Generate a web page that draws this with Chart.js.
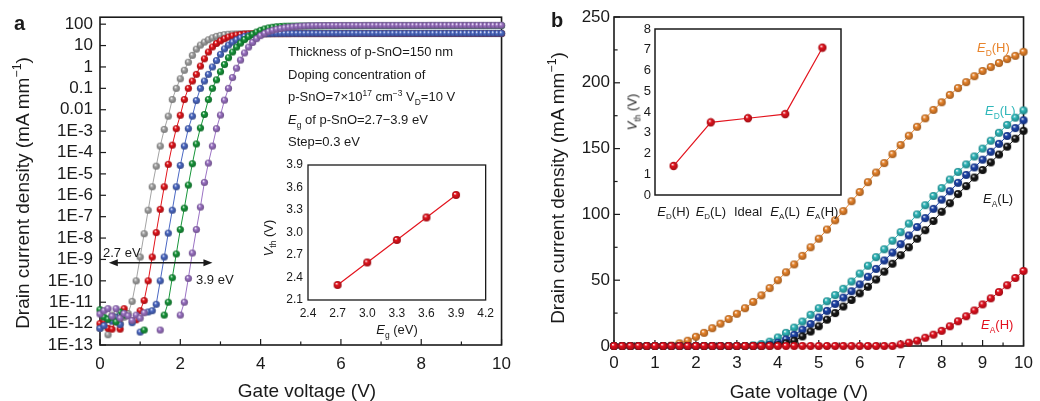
<!DOCTYPE html>
<html>
<head>
<meta charset="utf-8">
<script src="https://cdn.jsdelivr.net/npm/chart.js@4.4.1/dist/chart.umd.min.js"></script>
<style>
  body { margin: 0; background: #fff; }
  #wrap { position: relative; width: 1040px; height: 401px; overflow: hidden; font-family: 'Liberation Sans', Arial, sans-serif; color: #1a1a1a; }
  canvas { position: absolute; }
  .t { position: absolute; white-space: nowrap; line-height: 1; }
  .c { transform: translate(-50%, 0); }
  .rot { transform: translate(-50%, -50%) rotate(-90deg); }
  sub, sup { font-size: 65%; line-height: 0; }
</style>
</head>
<body>
<div id="wrap">
  <canvas id="ca" width="520" height="401" style="left:0;top:0"></canvas>
  <canvas id="cai" width="230" height="195" style="left:270px;top:150px"></canvas>
  <canvas id="cb" width="520" height="401" style="left:520px;top:0"></canvas>
  <canvas id="cbi" width="260" height="215" style="left:600px;top:15px"></canvas>

  <div class="t" style="left:14px;top:13px;font-size:20px;font-weight:bold">a</div>
  <div class="t" style="left:551px;top:10px;font-size:20px;font-weight:bold">b</div>

  <div class="t" style="left:288px;top:45px;font-size:13px">Thickness of p-SnO=150 nm</div>
  <div class="t" style="left:288px;top:68px;font-size:13px">Doping concentration of</div>
  <div class="t" style="left:288px;top:90px;font-size:13px">p-SnO=7×10<sup>17</sup> cm<sup>−3</sup> V<sub>D</sub>=10 V</div>
  <div class="t" style="left:288px;top:113px;font-size:13px"><i>E</i><sub>g</sub> of p-SnO=2.7−3.9 eV</div>
  <div class="t" style="left:288px;top:135px;font-size:13px">Step=0.3 eV</div>
  <div class="t" style="left:103px;top:246px;font-size:13px">2.7 eV</div>
  <div class="t" style="left:196px;top:273px;font-size:13px">3.9 eV</div>

  <div class="t c" style="left:397px;top:323px;font-size:13px"><i>E</i><sub>g</sub> (eV)</div>
  <div class="t rot" style="left:268px;top:238px;font-size:13px"><i>V</i><sub>th</sub> (V)</div>
  <div class="t rot" style="left:632px;top:112px;font-size:13px"><i>V</i><sub>th</sub> (V)</div>

  <div class="t c" style="left:307px;top:381px;font-size:19px">Gate voltage (V)</div>
  <div class="t c" style="left:799px;top:382px;font-size:19px">Gate voltage (V)</div>
  <div class="t rot" style="left:22px;top:193px;font-size:19px">Drain current density (mA mm<sup>−1</sup>)</div>
  <div class="t rot" style="left:557px;top:188px;font-size:19px">Drain current density (mA mm<sup>−1</sup>)</div>

  <div class="t" style="left:977px;top:41px;font-size:13px;color:#e8842c"><i>E</i><sub>D</sub>(H)</div>
  <div class="t" style="left:985px;top:104px;font-size:13px;color:#2fb7ba"><i>E</i><sub>D</sub>(L)</div>
  <div class="t" style="left:983px;top:192px;font-size:13px;color:#1a1a1a"><i>E</i><sub>A</sub>(L)</div>
  <div class="t" style="left:981px;top:318px;font-size:13px;color:#e3101e"><i>E</i><sub>A</sub>(H)</div>
</div>

<script>
// ---- panel a: transfer curves (log scale), step 0.1 V
const gateA = [
  0,0.1,0.2,0.3,0.4,0.5,0.6,0.7,0.8,0.9,
  1,1.1,1.2,1.3,1.4,1.5,1.6,1.7,1.8,1.9,
  2,2.1,2.2,2.3,2.4,2.5,2.6,2.7,2.8,2.9,
  3,3.1,3.2,3.3,3.4,3.5,3.6,3.7,3.8,3.9,
  4,4.1,4.2,4.3,4.4,4.5,4.6,4.7,4.8,4.9,
  5,5.1,5.2,5.3,5.4,5.5,5.6,5.7,5.8,5.9,
  6,6.1,6.2,6.3,6.4,6.5,6.6,6.7,6.8,6.9,
  7,7.1,7.2,7.3,7.4,7.5,7.6,7.7,7.8,7.9,
  8,8.1,8.2,8.3,8.4,8.5,8.6,8.7,8.8,8.9,
  9,9.1,9.2,9.3,9.4,9.5,9.6,9.7,9.8,9.9,
  10
];

// Eg = 2.7 eV
const grayA = [
  6e-13,1.5e-12,3e-13,2.5e-12,1.2e-12,1e-12,2e-12,3e-12,1.1e-11,1e-10,
  1.3e-9,1.6e-8,2e-7,2.5e-6,2.3e-5,2e-4,1.2e-3,5e-3,0.03,0.1,
  0.28,0.7,1.66,3.5,6.8,10.5,14.5,18.6,23,27,
  30,32.4,33.9,34.7,35.2,35.5,35.6,35.7,35.7,35.8,
  35.8,35.8,35.9,35.9,35.9,35.9,36,36,36,36,
  36,36,36,36.1,36.1,36.1,36.1,36.1,36.1,36.1,
  36.1,36.2,36.2,36.2,36.2,36.2,36.2,36.2,36.2,36.2,
  36.2,36.2,36.2,36.2,36.2,36.2,36.2,36.2,36.2,36.2,
  36.2,36.2,36.2,36.3,36.3,36.3,36.3,36.3,36.3,36.3,
  36.3,36.3,36.3,36.3,36.3,36.3,36.3,36.3,36.3,36.3,
  36.3
];
// Eg = 3.0 eV
const redA = [
  1e-12,1.3e-12,6e-13,5.5e-13,1.8e-12,5.5e-13,5e-12,null,null,1.5e-12,
  4e-12,1.2e-11,1e-10,1.3e-9,1.8e-8,2.2e-7,2.5e-6,2.8e-5,2.2e-4,1.3e-3,
  5.5e-3,0.03,0.1,0.22,0.45,1.1,2.4,5,8.6,12.5,
  16.5,20.8,25,28.5,31.2,33.1,34.3,35,35.5,35.8,
  36,36.1,36.2,36.3,36.3,36.4,36.4,36.4,36.5,36.5,
  36.5,36.5,36.5,36.6,36.6,36.6,36.6,36.6,36.6,36.6,
  36.7,36.7,36.7,36.7,36.7,36.7,36.7,36.7,36.7,36.7,
  36.7,36.7,36.7,36.7,36.7,36.7,36.7,36.7,36.7,36.7,
  36.7,36.7,36.7,36.8,36.8,36.8,36.8,36.8,36.8,36.8,
  36.8,36.8,36.8,36.8,36.8,36.8,36.8,36.8,36.8,36.8,
  36.8
];
// Eg = 3.3 eV
const blueA = [
  6e-13,8e-13,1.6e-12,1.3e-12,2e-12,9e-13,null,null,1.1e-12,null,
  4e-13,null,3.5e-12,4e-12,8e-12,1e-10,1.3e-9,1.7e-8,2e-7,2.5e-6,
  2.5e-5,2e-4,1.3e-3,5e-3,0.027,0.1,0.22,0.45,1.0,2.0,
  3.9,7,10.5,14.5,18.6,23,27,30,32.4,33.9,
  34.9,35.6,36.1,36.5,36.7,36.8,36.9,37,37,37.1,
  37.1,37.1,37.2,37.2,37.2,37.2,37.3,37.3,37.3,37.3,
  37.3,37.3,37.4,37.4,37.4,37.4,37.4,37.4,37.4,37.4,
  37.4,37.4,37.5,37.5,37.5,37.5,37.5,37.5,37.5,37.5,
  37.5,37.5,37.5,37.5,37.5,37.5,37.5,37.5,37.5,37.5,
  37.5,37.5,37.5,37.5,37.5,37.5,37.5,37.5,37.5,37.5,
  37.5
];
// Eg = 3.6 eV
const greenA = [
  4.5e-12,2e-12,1.6e-12,2e-12,1.2e-12,3.5e-12,2.5e-12,null,null,null,
  null,5e-13,null,null,null,null,2.5e-12,1e-11,1.4e-10,1.8e-9,
  2.5e-8,2.5e-7,3e-6,3e-5,2.5e-4,1.4e-3,6e-3,0.03,0.1,0.25,
  0.6,1.3,2.7,5,8.5,13,19,26,34,43,
  52,60,67,72,76,78.5,80.5,81,81.5,82,
  82.4,82.7,83,83.3,83.5,83.7,83.9,84.1,84.2,84.4,
  84.5,84.6,84.7,84.8,84.9,85,85.1,85.1,85.2,85.3,
  85.3,85.4,85.4,85.5,85.5,85.6,85.6,85.6,85.7,85.7,
  85.7,85.8,85.8,85.8,85.8,85.9,85.9,85.9,85.9,86,
  86,86,86,86,86.1,86.1,86.1,86.1,86.1,86.1,
  86.2
];
// Eg = 3.9 eV
const purpleA = [
  2.8e-12,4e-12,5e-12,2.2e-12,5e-12,1.8e-12,3e-12,2.3e-12,1.4e-12,2.5e-12,
  1.8e-12,3.2e-12,null,null,null,5e-13,null,null,null,null,
  2.5e-12,1e-11,1.3e-10,2e-9,2.5e-8,2.8e-7,4e-6,3.2e-5,2e-4,1.3e-3,
  5.6e-3,0.028,0.1,0.32,0.87,2.1,4.5,8.5,14,21,
  29,37,45,52,58,63,68,72,75.5,78.5,
  81,83,84.5,85.5,86.2,86.5,86.8,87,87.2,87.3,
  87.4,87.5,87.6,87.7,87.8,87.9,88,88,88.1,88.1,
  88.2,88.2,88.3,88.3,88.3,88.4,88.4,88.4,88.5,88.5,
  88.5,88.5,88.6,88.6,88.6,88.6,88.7,88.7,88.7,88.7,
  88.7,88.8,88.8,88.8,88.8,88.8,88.9,88.9,88.9,88.9,
  89
];
const seriesA = [grayA, redA, blueA, greenA, purpleA];
const colorsA = ['#a3a3a3', '#e3141b', '#4b68c4', '#17963a', '#9b72c4'];

const xTicksA = [0, 2, 4, 6, 8, 10];
const xMinorA = [1, 3, 5, 7, 9];
const yTicksA = [1e-13,1e-12,1e-11,1e-10,1e-9,1e-8,1e-7,1e-6,1e-5,1e-4,1e-3,1e-2,1e-1,1,10,100];
const yLabelsA = ['1E-13','1E-12','1E-11','1E-10','1E-9','1E-8','1E-7','1E-6','1E-5','1E-4','1E-3','0.01','0.1','1','10','100'];
const arrowA = { from: 0.22, to: 2.8, at: 7e-10 };

// inset a: threshold voltage vs band gap
const insetAEg = [2.7, 3.0, 3.3, 3.6, 3.9];
const insetAVth = [2.3, 2.6, 2.9, 3.2, 3.5];
const insetAXTicks = [2.4, 2.7, 3.0, 3.3, 3.6, 3.9, 4.2];
const insetAYTicks = [2.1, 2.4, 2.7, 3.0, 3.3, 3.6, 3.9];

// ---- panel b: transfer curves (linear), step 0.2 V
const gateB = [
  0,0.2,0.4,0.6,0.8,1,1.2,1.4,1.6,1.8,
  2,2.2,2.4,2.6,2.8,3,3.2,3.4,3.6,3.8,
  4,4.2,4.4,4.6,4.8,5,5.2,5.4,5.6,5.8,
  6,6.2,6.4,6.6,6.8,7,7.2,7.4,7.6,7.8,
  8,8.2,8.4,8.6,8.8,9,9.2,9.4,9.6,9.8,
  10
];
const edHighB = [
  0,0,0,0,0,0,0,0.3,2,4,
  7,10,13.5,17,20.5,24.5,28.7,33.5,38.5,44,
  50,56,62,68.5,75,81.5,88.5,95.5,102.5,110,
  117,124.5,131.8,139,145.8,152.7,159.8,166.6,173,179.4,
  185.2,190.8,196,200.5,205,209,212,215,218,220.5,
  223.5
];
const edLowB = [
  0,0,0,0,0,0,0,0,0,0,
  0,0,0,0,0,0,0,0.5,1.5,3.3,
  6.5,10,14,18.6,23.7,28.7,34,38.7,43.5,49,
  55,61,67.5,73.5,80,86.5,93,100,107,114,
  120,126.5,132.3,138,144,150,156,162,168,173.5,
  179
];
const idealB = [
  0,0,0,0,0,0,0,0,0,0,
  0,0,0,0,0,0,0,0,0.2,1,
  2.5,5,8.5,12.4,16.7,21.7,26.7,32,36.8,41.6,
  46.8,52.6,58.6,65,71,77.4,84,90.4,97.2,104.2,
  111.2,117.6,124,130,135.7,141.6,147.6,153.6,159.6,165.6,
  171.5
];
const eaLowB = [
  0,0,0,0,0,0,0,0,0,0,
  0,0,0,0,0,0,0,0,0,0.2,
  0.7,2,4,7.3,11,15,20,25,30,35,
  40,45,50.5,56.5,62.5,69,75,81.5,88,95,
  102,108.5,115.5,121.5,128,133.7,139.5,145.5,151.5,157.5,
  163.5
];
const eaHighB = [
  0,0,0,0,0,0,0,0,0,0,
  0,0,0,0,0,0,0,0,0,0,
  0,0,0,0,0,0,0,0,0,0,
  0,0,0,0,0,1.2,2.5,4,6.3,8.6,
  11.5,15,18.8,22.6,27,31.6,36.2,41,46.2,51.7,
  57
];
const seriesB = [edHighB, edLowB, idealB, eaLowB, eaHighB];
const colorsB = ['#e8842c', '#2fb7ba', '#1d43a8', '#161616', '#e3101e'];

const xTicksB = [0,1,2,3,4,5,6,7,8,9,10];
const xMinorB = [0.5,1.5,2.5,3.5,4.5,5.5,6.5,7.5,8.5,9.5];
const yTicksB = [0, 50, 100, 150, 200, 250];
const yMinorB = [25, 75, 125, 175, 225];

// inset b: threshold voltage per defect case
const insetBCats = ['E_D(H)', 'E_D(L)', 'Ideal', 'E_A(L)', 'E_A(H)'];
const insetBVth = [1.4, 3.5, 3.7, 3.9, 7.1];
const insetBYTicks = [0,1,2,3,4,5,6,7,8];

// ---------------------------------------------------------------
const FAM = "'Liberation Sans', Arial, sans-serif";
Chart.defaults.font.family = FAM;
Chart.defaults.color = '#1a1a1a';

function shade(hex, f) {
  const n = parseInt(hex.slice(1), 16);
  const r = Math.round(((n >> 16) & 255) * f);
  const g = Math.round(((n >> 8) & 255) * f);
  const b = Math.round((n & 255) * f);
  return 'rgb(' + r + ',' + g + ',' + b + ')';
}

// little shaded sphere used as point marker
function makeBall(color, r) {
  const d = Math.round(2 * r + 2);
  const c = document.createElement('canvas');
  c.width = c.height = d;
  const g = c.getContext('2d');
  const m = d / 2;
  const gr = g.createRadialGradient(m - r * 0.3, m - r * 0.4, r * 0.05, m, m, r);
  gr.addColorStop(0, '#ffffff');
  gr.addColorStop(0.35, color);
  gr.addColorStop(1, shade(color, 0.7));
  g.fillStyle = gr;
  g.beginPath();
  g.arc(m, m, r, 0, Math.PI * 2);
  g.fill();
  return c;
}

// box around plot area + inward ticks
const frame = {
  id: 'frame',
  beforeDatasetsDraw(chart, args, o) {
    const { ctx, chartArea: a, scales } = chart;
    ctx.save();
    ctx.strokeStyle = '#1a1a1a';
    ctx.lineWidth = o.lw || 1.5;
    ctx.strokeRect(a.left, a.top, a.right - a.left, a.bottom - a.top);
    ctx.lineWidth = 1.2;
    const tick = (list, len, horiz) => (list || []).forEach(v => {
      ctx.beginPath();
      if (horiz) {
        const p = scales.x.getPixelForValue(v);
        ctx.moveTo(p, a.bottom); ctx.lineTo(p, a.bottom - len);
      } else {
        const p = scales.y.getPixelForValue(v);
        ctx.moveTo(a.left, p); ctx.lineTo(a.left + len, p);
      }
      ctx.stroke();
    });
    tick(o.xMajor, o.len, true);
    tick(o.xMinor, o.len * 0.6, true);
    tick(o.yMajor, o.len, false);
    tick(o.yMinor, o.len * 0.6, false);
    ctx.restore();
  }
};

// double-headed arrow in data units
const arrow = {
  id: 'arrow',
  afterDatasetsDraw(chart, args, o) {
    if (!o.at) return;
    const { ctx, scales: { x, y } } = chart;
    const x0 = x.getPixelForValue(o.from), x1 = x.getPixelForValue(o.to), yy = y.getPixelForValue(o.at);
    ctx.save();
    ctx.strokeStyle = ctx.fillStyle = '#1a1a1a';
    ctx.lineWidth = 1.3;
    ctx.beginPath(); ctx.moveTo(x0 + 5, yy); ctx.lineTo(x1 - 5, yy); ctx.stroke();
    [[x0, 1], [x1, -1]].forEach(([px, s]) => {
      ctx.beginPath();
      ctx.moveTo(px, yy);
      ctx.lineTo(px + s * 9, yy - 3.5);
      ctx.lineTo(px + s * 9, yy + 3.5);
      ctx.closePath();
      ctx.fill();
    });
    ctx.restore();
  }
};

// category labels like E_D(H) with italic E and subscript
const richCats = {
  id: 'richCats',
  afterDraw(chart, args, o) {
    if (!o.labels) return;
    const { ctx, chartArea: a, scales: { x } } = chart;
    ctx.save();
    ctx.fillStyle = '#1a1a1a';
    ctx.textBaseline = 'alphabetic';
    o.labels.forEach((lab, i) => {
      const parts = [];
      const k = lab.indexOf('_');
      if (k < 0) parts.push([lab, o.size + 'px ' + FAM, 0]);
      else {
        parts.push([lab.slice(0, k), 'italic ' + o.size + 'px ' + FAM, 0]);
        parts.push([lab[k + 1], Math.round(o.size * 0.65) + 'px ' + FAM, 3]);
        parts.push([lab.slice(k + 2), o.size + 'px ' + FAM, 0]);
      }
      let w = 0;
      parts.forEach(p => { ctx.font = p[1]; w += ctx.measureText(p[0]).width; });
      let px = x.getPixelForValue(i) - w / 2;
      parts.forEach(p => {
        ctx.font = p[1];
        ctx.fillText(p[0], px, a.bottom + o.dy + p[2]);
        px += ctx.measureText(p[0]).width;
      });
    });
    ctx.restore();
  }
};

const base = { responsive: false, animation: false, events: [] };
const noLegend = { legend: { display: false }, tooltip: { enabled: false } };
const noGrid = { display: false, drawTicks: false, tickLength: 0 };
const setTicks = list => s => { s.ticks = list.map(v => ({ value: v })); };

// panel a (later series drawn on top: lower order = on top)
const ballsA = colorsA.map(c => makeBall(c, 3.6));
new Chart(document.getElementById('ca'), {
  type: 'line',
  data: {
    labels: gateA,
    datasets: seriesA.map((d, k) => ({
      data: d, borderColor: colorsA[k], borderWidth: 1, order: seriesA.length - k,
      pointStyle: ballsA[k], pointRadius: 3.5, clip: false
    }))
  },
  options: {
    ...base,
    layout: { padding: { left: 40, top: 17, right: 11, bottom: 0 } },
    plugins: {
      ...noLegend,
      frame: { lw: 1.6, len: 6, xMajor: xTicksA, xMinor: xMinorA, yMajor: yTicksA },
      arrow: arrowA
    },
    scales: {
      x: {
        type: 'linear', min: 0, max: 10,
        afterBuildTicks: setTicks(xTicksA),
        afterFit: s => { s.height = 56; },
        grid: noGrid, border: { display: false },
        ticks: { autoSkip: false, maxRotation: 0, padding: 9, font: { size: 17 } }
      },
      y: {
        type: 'logarithmic', min: 1e-13, max: 212,
        afterBuildTicks: setTicks(yTicksA),
        afterFit: s => { s.width = 60; },
        grid: noGrid, border: { display: false },
        ticks: { autoSkip: false, padding: 7, font: { size: 17 }, callback: (v, i) => yLabelsA[i] }
      }
    }
  },
  plugins: [frame, arrow]
});

// inset a
new Chart(document.getElementById('cai'), {
  type: 'line',
  data: {
    labels: insetAEg,
    datasets: [{ data: insetAVth, borderColor: '#e3141e', borderWidth: 1.2,
      pointStyle: makeBall('#e3141e', 4), pointRadius: 4, clip: false }]
  },
  options: {
    ...base,
    layout: { padding: { left: 8, top: 15, right: 13, bottom: 0 } },
    plugins: { ...noLegend, frame: { lw: 1.3, len: 0 } },
    scales: {
      x: {
        type: 'linear', min: 2.4, max: 4.2,
        afterBuildTicks: setTicks(insetAXTicks),
        afterFit: s => { s.height = 45; },
        grid: noGrid, border: { display: false },
        ticks: { autoSkip: false, maxRotation: 0, padding: 6, font: { size: 12 }, callback: v => v.toFixed(1) }
      },
      y: {
        type: 'linear', min: 2.1, max: 3.9,
        afterBuildTicks: setTicks(insetAYTicks),
        afterFit: s => { s.width = 30; },
        grid: noGrid, border: { display: false },
        ticks: { autoSkip: false, padding: 5, font: { size: 12 }, callback: v => v.toFixed(1) }
      }
    }
  },
  plugins: [frame]
});

// panel b
const ballsB = colorsB.map(c => makeBall(c, 4.1));
new Chart(document.getElementById('cb'), {
  type: 'line',
  data: {
    labels: gateB,
    datasets: seriesB.map((d, k) => ({
      data: d, borderColor: colorsB[k], borderWidth: 1, order: seriesB.length - k,
      pointStyle: ballsB[k], pointRadius: 4, clip: false
    }))
  },
  options: {
    ...base,
    layout: { padding: { left: 34, top: 17, right: 12, bottom: 0 } },
    plugins: {
      ...noLegend,
      frame: { lw: 1.6, len: 6, xMajor: xTicksB, xMinor: xMinorB, yMajor: yTicksB, yMinor: yMinorB }
    },
    scales: {
      x: {
        type: 'linear', min: 0, max: 10,
        afterBuildTicks: setTicks(xTicksB),
        afterFit: s => { s.height = 55; },
        grid: noGrid, border: { display: false },
        ticks: { autoSkip: false, maxRotation: 0, padding: 7, font: { size: 17 } }
      },
      y: {
        type: 'linear', min: 0, max: 250,
        afterBuildTicks: setTicks(yTicksB),
        afterFit: s => { s.width = 60; },
        grid: noGrid, border: { display: false },
        ticks: { autoSkip: false, padding: 4, font: { size: 17 } }
      }
    }
  },
  plugins: [frame]
});

// inset b
new Chart(document.getElementById('cbi'), {
  type: 'line',
  data: {
    labels: insetBCats,
    datasets: [{ data: insetBVth, borderColor: '#e3141e', borderWidth: 1.2,
      pointStyle: makeBall('#e3141e', 4.2), pointRadius: 4, clip: false }]
  },
  options: {
    ...base,
    layout: { padding: { left: 25, top: 14, right: 19, bottom: 0 } },
    plugins: {
      ...noLegend,
      frame: { lw: 1.5, len: 0 },
      richCats: { labels: insetBCats, size: 13, dy: 21 }
    },
    scales: {
      x: {
        type: 'category', offset: true,
        afterFit: s => { s.height = 35; },
        grid: noGrid, border: { display: false },
        ticks: { display: false }
      },
      y: {
        type: 'linear', min: 0, max: 8,
        afterBuildTicks: setTicks(insetBYTicks),
        afterFit: s => { s.width = 30; },
        grid: noGrid, border: { display: false },
        ticks: { autoSkip: false, padding: 4, font: { size: 13 } }
      }
    }
  },
  plugins: [frame, richCats]
});
</script>
</body>
</html>
